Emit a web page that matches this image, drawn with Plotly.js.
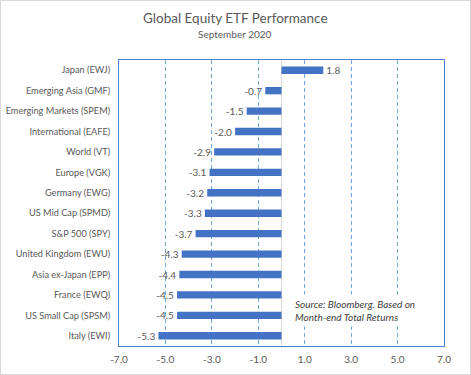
<!DOCTYPE html>
<html>
<head>
<meta charset="utf-8">
<script src="https://cdn.plot.ly/plotly-3.0.1.min.js"></script>
<style>
html,body{margin:0;padding:0;background:#fff;}
#wrap{width:471px;height:375px;box-sizing:border-box;border:1px solid #d9d9d9;}
#chart{width:469px;height:373px;}
</style>
</head>
<body>
<div id="wrap"><div id="chart"></div></div>
<script>
const categories = ["Japan (EWJ)","Emerging Asia (GMF)","Emerging Markets (SPEM)","International (EAFE)","World (VT)","Europe (VGK)","Germany (EWG)","US Mid Cap (SPMD)","S&P 500 (SPY)","United Kingdom (EWU)","Asia ex-Japan (EPP)","France (EWQ)","US Small Cap (SPSM)","Italy (EWI)"];
const values = [1.8,-0.7,-1.5,-2.0,-2.9,-3.1,-3.2,-3.3,-3.7,-4.3,-4.4,-4.5,-4.5,-5.3];
const tickValues = [-7,-5,-3,-1,1,3,5,7];
const tickLabels = ["-7.0","-5.0","-3.0","-1.0","1.0","3.0","5.0","7.0"];
const barLabels = values.map(v => v.toFixed(1));

const FONT = "Lato, 'Open Sans', sans-serif";
const GRAY = "#595959";

const trace = {
  type: "bar",
  orientation: "h",
  y: categories,
  x: values,
  text: barLabels,
  textposition: "outside",
  constraintext: "none",
  cliponaxis: false,
  textfont: {family: FONT, size: 10, color: GRAY},
  marker: {color: "#4472C4"},
  hoverinfo: "none"
};

const layout = {
  width: 469, height: 373,
  margin: {l: 118, r: 26, t: 59, b: 28},
  paper_bgcolor: "#fff",
  plot_bgcolor: "#fff",
  showlegend: false,
  bargap: 0.64,
  font: {family: FONT, size: 10, color: GRAY},
  xaxis: {
    range: [-7, 7],
    tickvals: tickValues,
    ticktext: tickLabels,
    showgrid: true,
    gridcolor: "#6fa8dc",
    griddash: "4px,3px",
    gridwidth: 1,
    zeroline: true,
    zerolinecolor: "#d9d9d9",
    zerolinewidth: 1,
    showline: true,
    mirror: true,
    linecolor: "#4f7fd0",
    linewidth: 1,
    ticks: "",
    ticklabelstandoff: 4,
    tickfont: {family: FONT, size: 10, color: GRAY},
    fixedrange: true
  },
  yaxis: {
    type: "category",
    autorange: "reversed",
    showgrid: false,
    zeroline: false,
    showline: true,
    mirror: true,
    linecolor: "#4f7fd0",
    linewidth: 1,
    ticks: "",
    ticklabelstandoff: 6,
    tickfont: {family: FONT, size: 9.2, color: GRAY},
    fixedrange: true
  },
  annotations: [
    {xref: "paper", yref: "paper", x: 0.357, y: 1, xanchor: "center", yanchor: "bottom",
     text: "Global Equity ETF Performance", showarrow: false,
     font: {family: FONT, size: 13.5, color: GRAY}, yshift: 32},
    {xref: "paper", yref: "paper", x: 0.357, y: 1, xanchor: "center", yanchor: "bottom",
     text: "September 2020", showarrow: false,
     font: {family: FONT, size: 10, color: GRAY}, yshift: 18},
    {xref: "paper", yref: "paper", x: 0.53, y: 0.125, xanchor: "left", yanchor: "middle", align: "left",
     text: "<i>Source: Bloomberg. Based on<br>Month-end Total Returns</i>", showarrow: false,
     bgcolor: "#fff", borderpad: 3,
     font: {family: FONT, size: 10, color: "#404040"}}
  ]
};

Plotly.newPlot("chart", [trace], layout, {displayModeBar: false, staticPlot: true});
</script>
</body>
</html>
